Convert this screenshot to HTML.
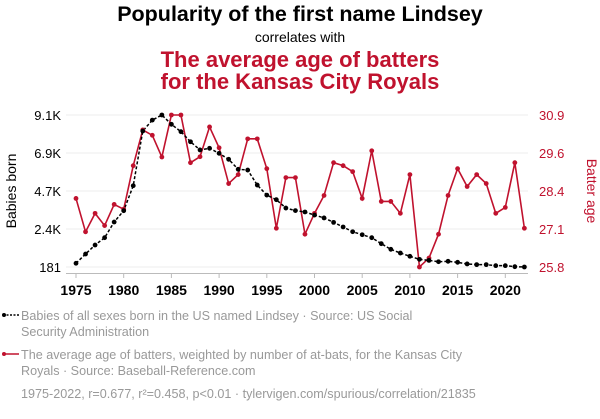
<!DOCTYPE html>
<html><head><meta charset="utf-8"><style>
body{margin:0;background:#fff;width:600px;height:414px;overflow:hidden;font-family:"Liberation Sans",sans-serif}
svg text{font-family:"Liberation Sans",sans-serif}
</style></head><body>
<svg id="chart" width="600" height="414" xmlns="http://www.w3.org/2000/svg">
<text x="300" y="21" text-anchor="middle" font-size="21.5" font-weight="bold" fill="#000">Popularity of the first name Lindsey</text>
<text x="300" y="42" text-anchor="middle" font-size="14" fill="#000">correlates with</text>
<text x="300" y="67" text-anchor="middle" font-size="22" font-weight="bold" fill="#c0122e">The average age of batters</text>
<text x="300" y="89" text-anchor="middle" font-size="22" font-weight="bold" fill="#c0122e">for the Kansas City Royals</text>
<g id="grid"></g>
<g id="axes"></g>
<g id="series"></g>
<text transform="translate(16,191) rotate(-90)" text-anchor="middle" font-size="14" fill="#000">Babies born</text>
<text transform="translate(587,191) rotate(90)" text-anchor="middle" font-size="14" fill="#c0122e">Batter age</text>
<g>
<line x1="3" y1="315" x2="19" y2="315" stroke="#000" stroke-width="1.5" stroke-dasharray="2,1.5"/>
<circle cx="4" cy="315" r="2" fill="#000"/>
<text x="21" y="320" font-size="12.6" fill="#999">Babies of all sexes born in the US named Lindsey · Source: US Social</text>
<text x="21" y="336" font-size="12.6" fill="#999">Security Administration</text>
</g>
<g>
<line x1="3" y1="354" x2="19" y2="354" stroke="#c0122e" stroke-width="1.5"/>
<circle cx="4" cy="354" r="2" fill="#c0122e"/>
<text x="21" y="359" font-size="12.6" fill="#999">The average age of batters, weighted by number of at-bats, for the Kansas City</text>
<text x="21" y="375" font-size="12.6" fill="#999">Royals · Source: Baseball-Reference.com</text>
</g>
<text x="21" y="398" font-size="12.6" fill="#999">1975-2022, r=0.677, r²=0.458, p&lt;0.01 · tylervigen.com/spurious/correlation/21835</text>
</svg>
<script>
const years=[];for(let y=1975;y<=2022;y++)years.push(y);
const babies=[400,943,1470,1900,2820,3485,4950,8160,8800,9100,8555,8120,7530,7050,7145,6850,6500,5915,5870,4990,4400,4130,3640,3490,3410,3230,3060,2800,2530,2250,2075,1900,1550,1220,1000,810,630,570,490,515,455,360,320,320,260,260,200,181];
const ages=[28.1,26.98,27.6,27.19,27.9,27.74,29.2,30.4,30.22,29.49,30.9,30.9,29.3,29.5,30.5,29.8,28.6,28.9,30.1,30.1,29.1,27.1,28.8,28.8,26.9,27.6,28.2,29.3,29.2,29.0,28.1,29.7,28.0,28.0,27.6,28.9,25.8,26.1,26.9,28.2,29.1,28.5,28.9,28.6,27.6,27.8,29.3,27.1];
const leftTicks=["181","2.4K","4.7K","6.9K","9.1K"];
const rightTicks=["25.8","27.1","28.4","29.6","30.9"];
const xTicks=[1975,1980,1985,1990,1995,2000,2005,2010,2015,2020];
const NS="http://www.w3.org/2000/svg";
const x=v=>76+(v-1975)*9.54;
const yL=v=>267-(v-181)/(9100-181)*152;
const yR=v=>267-(v-25.8)/(30.9-25.8)*152;
function mk(tag,attrs,parent,txt){const e=document.createElementNS(NS,tag);for(const k in attrs)e.setAttribute(k,attrs[k]);if(txt!=null)e.textContent=txt;document.getElementById(parent).appendChild(e);return e;}
leftTicks.forEach((t,i)=>{const yy=267-i*38;
 const g=mk('line',{x1:66,x2:528,y1:yy,y2:yy,stroke:'#eee','stroke-width':1},'grid');
 
 
 const a=mk('text',{x:61,y:yy+5,'text-anchor':'end','font-size':13,fill:'#000'},'axes',t);
 
 
 const b=mk('text',{x:539,y:yy+5,'font-size':13,fill:'#c0122e'},'axes',rightTicks[i]);
 
 
});
const ax=mk('line',{x1:66,x2:528,y1:273.5,y2:273.5,stroke:'#bbb','stroke-width':1},'axes');


xTicks.forEach(t=>{
 const tk=mk('line',{x1:x(t),x2:x(t),y1:273.5,y2:278,stroke:'#bbb'},'axes');
 
 
 const l=mk('text',{x:x(t),y:295,'text-anchor':'middle','font-size':14,'font-weight':'bold',fill:'#000'},'axes',t);
 
 
});
const pa=mk('polyline',{points:years.map((y,i)=>x(y)+','+yR(ages[i])).join(' '),fill:'none',stroke:'#c0122e','stroke-width':1.6},'series');


const pb=mk('polyline',{points:years.map((y,i)=>x(y)+','+yL(babies[i])).join(' '),fill:'none',stroke:'#000','stroke-width':1.5,'stroke-dasharray':'3,2'},'series');


years.forEach((y,i)=>{
 const c=mk('circle',{cx:x(y),cy:yR(ages[i]),r:2.4,fill:'#c0122e'},'series');
 
 
 const d=mk('circle',{cx:x(y),cy:yL(babies[i]),r:2.4,fill:'#000'},'series');
 
 
});
</script>
</body></html>
